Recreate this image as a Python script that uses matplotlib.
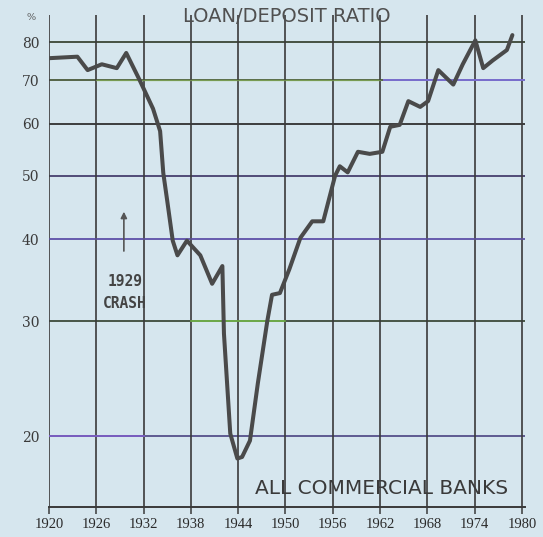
import matplotlib
matplotlib.use("Agg")
import matplotlib.pyplot as plt
from matplotlib.ticker import FixedLocator, NullLocator, NullFormatter

# ---- data ----
years = [1920.0, 1923.6, 1924.9, 1926.7, 1928.6, 1929.8, 1931.5, 1933.2, 1934.1,
         1934.5, 1935.0, 1935.7, 1936.3, 1937.5, 1939.2, 1940.7, 1942.0, 1942.2,
         1943.0, 1943.9, 1944.5, 1945.5, 1946.5, 1947.7, 1948.3, 1949.3, 1950.5,
         1951.9, 1953.4, 1954.8, 1956.3, 1956.9, 1957.9, 1959.2, 1960.7, 1962.3,
         1963.3, 1964.5, 1965.6, 1967.1, 1968.1, 1969.4, 1971.3, 1972.5, 1974.1,
         1975.1, 1976.3, 1978.1, 1978.8]
ratio = [75.6, 76.0, 72.5, 74.0, 73.0, 77.0, 70.0, 63.3, 58.5,
         50.5, 45.8, 39.8, 37.8, 39.8, 37.8, 34.2, 36.4, 28.7,
         20.2, 18.5, 18.6, 19.7, 24.1, 30.0, 32.9, 33.1, 36.0,
         40.2, 42.6, 42.6, 50.0, 51.7, 50.6, 54.4, 54.0, 54.4,
         59.4, 59.8, 65.0, 63.7, 65.0, 72.5, 68.9, 74.0, 80.5,
         73.0, 75.0, 77.8, 82.0]
x_ticks = [1920, 1926, 1932, 1938, 1944, 1950, 1956, 1962, 1968, 1974, 1980]
y_ticks = [20, 30, 40, 50, 60, 70, 80]
title = "LOAN/DEPOSIT RATIO"
subtitle = "ALL COMMERCIAL BANKS"
note = "1929\nCRASH"

BG = "#d6e6ee"
GRID = "#3a3a3a"

fig = plt.figure(figsize=(5.43, 5.37), dpi=100, facecolor=BG)
ax = fig.add_axes([49/543, 1-507/537, (525-49)/543, (507-15)/537])
ax.set_facecolor(BG)
ax.set_yscale("log")
ax.set_xlim(1920, 1980.4)
ax.set_ylim(15.6, 88)

# horizontal grid lines (with print-colour tints)
hcolors = {20: "#55508a", 30: "#3d4a3a", 40: "#5a4f98", 50: "#463f6e",
           60: "#303030", 70: "#4a5a3a", 80: "#3a4636"}
for v in y_ticks:
    ax.axhline(v, color=hcolors[v], lw=1.3, zorder=1)
ax.plot([1962.5, 1980.4], [70, 70], color="#7a6fd0", lw=1.4, zorder=1.1)
ax.plot([1926, 1962], [70, 70], color="#8fbf5a", lw=1.0, alpha=0.6, zorder=1.1)
ax.plot([1938, 1950], [30, 30], color="#7fd04a", lw=1.2, alpha=0.8, zorder=1.1)
ax.plot([1920, 1932], [20, 20], color="#7a5fc0", lw=1.4, zorder=1.1)
ax.plot([1920, 1980.4], [40, 40], color="#6a5fb8", lw=1.2, alpha=0.7, zorder=1.1)

# vertical grid lines
for t in x_ticks:
    ax.axvline(t, color=GRID, lw=1.2, zorder=1)

for s in ["top", "right", "left"]:
    ax.spines[s].set_visible(False)
ax.spines["bottom"].set_color(GRID)
ax.spines["bottom"].set_linewidth(1.4)

ax.yaxis.set_major_locator(FixedLocator(y_ticks))
ax.yaxis.set_minor_locator(NullLocator())
ax.yaxis.set_minor_formatter(NullFormatter())
ax.set_yticklabels([str(v) for v in y_ticks], fontfamily="DejaVu Serif",
                   fontsize=10, color="#3a3a3a")
ax.tick_params(axis="y", length=0, pad=7)
ax.set_xticks(x_ticks)
ax.set_xticklabels([str(t) for t in x_ticks], fontfamily="Liberation Serif",
                   fontsize=10.5, color="#2a2a2a")
ax.tick_params(axis="x", length=5, width=1.1, color=GRID, pad=3, direction="out")

ax.plot(years, ratio, color="#4a4a4a", lw=2.9, solid_joinstyle="round",
        solid_capstyle="round", zorder=3)

fig.text(287/543, 1-16/537, title, ha="center", va="center",
         fontfamily="DejaVu Sans", fontsize=14, color="#505050")
fig.text(382/543, 1-489/537, subtitle, ha="center", va="center",
         fontfamily="DejaVu Sans", fontsize=14.5, color="#3a3a3a")
fig.text(31/543, 1-18/537, "%", ha="center", va="center",
         fontfamily="DejaVu Serif", fontsize=7, color="#555555")

# annotation
ax.annotate("", xy=(1929.5, 44.5), xytext=(1929.5, 38.0),
            arrowprops=dict(arrowstyle="-|>", color="#555555", lw=1.2,
                            mutation_scale=9), zorder=4)
ax.text(1929.6, 33.2, note, ha="center", va="center", fontsize=10.5,
        fontfamily="DejaVu Sans Mono", fontweight="bold", color="#444444",
        linespacing=1.55, zorder=4)

fig.savefig("out.png", dpi=100, facecolor=BG)
